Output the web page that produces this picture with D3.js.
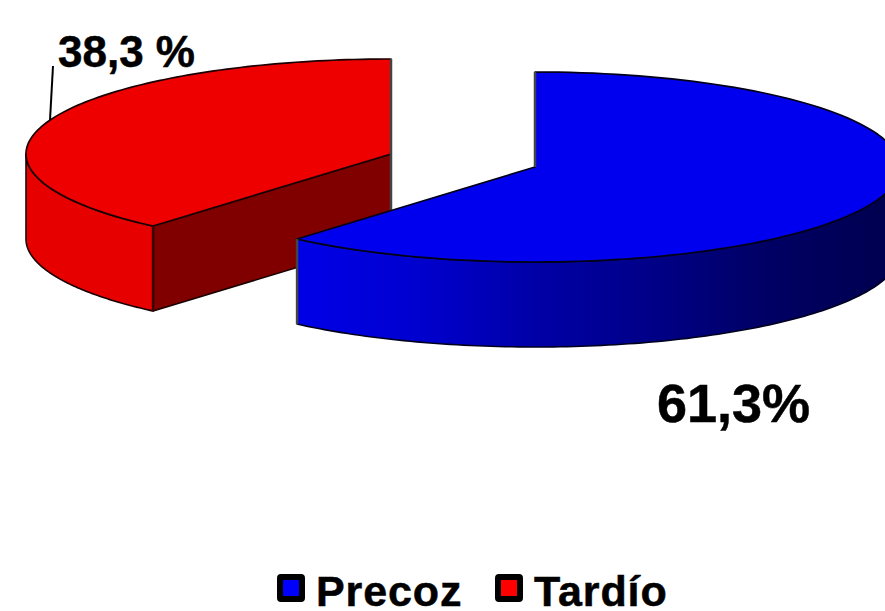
<!DOCTYPE html>
<html>
<head>
<meta charset="utf-8">
<script src="https://d3js.org/d3.v7.min.js"></script>
<style>
  html, body { margin: 0; padding: 0; background: #fff; overflow: hidden; }
  text { font-family: "Liberation Sans", Arial, sans-serif; font-weight: bold; fill: #000; stroke: #000; stroke-width: 0.5px; }
</style>
</head>
<body>
<div id="chart"></div>
<script>
const categories = ["Precoz", "Tardío"];
const values = [61.3, 38.3];
const valueLabels = ["61,3%", "38,3 %"];
const topColors = ["#0000ee", "#ee0000"];
const legendColors = ["#0000ff", "#ff0000"];

const width = 885, height = 611;
const rx = 365, ry = 95, depth = 85;

const svg = d3.select("#chart").append("svg")
  .attr("width", width)
  .attr("height", height);

// share of the circle, blue starts at 12 o'clock going clockwise
const angle = d3.scaleLinear().domain([0, 100]).range([0, 2 * Math.PI]);
const split = angle(values[0]);

const slices = {
  blue: { cx: 535, cy: 167, a0: 0, a1: split },
  red: { cx: 391, cy: 154, a0: split, a1: 2 * Math.PI }
};

function project(s, a, drop) {
  return [s.cx + rx * Math.sin(a), s.cy - ry * Math.cos(a) + (drop || 0)];
}

function arcPoints(s, a0, a1, drop) {
  const n = 120;
  return d3.range(n + 1).map(i => project(s, a0 + (a1 - a0) * i / n, drop));
}

const line = d3.line();
const edge = "#1a0000";

const defs = svg.append("defs");
const grad = defs.append("linearGradient")
  .attr("id", "blueSide")
  .attr("gradientUnits", "userSpaceOnUse")
  .attr("x1", 297).attr("x2", 885).attr("y1", 0).attr("y2", 0);
[[0, "#0000e8"], [0.2, "#0000d0"], [0.4, "#0000a8"], [0.6, "#000088"], [0.8, "#000064"], [1, "#000050"]]
  .forEach(d => grad.append("stop").attr("offset", d[0]).attr("stop-color", d[1]));

function rimPath(s, a0, a1) {
  return line(arcPoints(s, a0, a1, 0).concat(arcPoints(s, a1, a0, depth))) + "Z";
}

function drawFace(d, fill, stroke, sw) {
  svg.append("path").attr("d", d).attr("fill", fill)
    .attr("stroke", stroke).attr("stroke-width", sw).attr("stroke-linejoin", "round");
}

function drawEdge(p, q, color, sw) {
  svg.append("path").attr("d", line([p, q])).attr("fill", "none")
    .attr("stroke", color).attr("stroke-width", sw);
}

// red slice
const r = slices.red;
const rApex = [r.cx, r.cy];
const rTip = project(r, r.a0, 0);
drawFace(line([rApex, rTip, [rTip[0], rTip[1] + depth], [rApex[0], rApex[1] + depth]]) + "Z", "#800000", edge, 1.6);
drawFace(rimPath(r, r.a0, 1.5 * Math.PI), "#e60000", edge, 1.6);
drawFace(line([rApex].concat(arcPoints(r, r.a0, r.a1, 0))) + "Z", topColors[1], edge, 1.7);
drawEdge(rTip, [rTip[0], rTip[1] + depth], "#3a0505", 2.5);
drawEdge(project(r, r.a1, 0), [r.cx, r.cy + depth], "#444", 2.5);

// blue slice
const b = slices.blue;
const bApex = [b.cx, b.cy];
const bTip = project(b, b.a1, 0);
drawFace(rimPath(b, Math.PI / 2, b.a1), "url(#blueSide)", "#000020", 1.6);
drawFace(line([bApex].concat(arcPoints(b, b.a0, b.a1, 0))) + "Z", topColors[0], "#00001a", 1.7);
drawEdge(project(b, b.a0, 0), bApex, "#444", 2.5);
drawEdge(bTip, [bTip[0], bTip[1] + depth], "#444", 2.5);

// leader line and value labels
drawEdge([53, 66], [50, 120], "#000", 2);

svg.append("text").attr("x", 58).attr("y", 67).attr("font-size", 44).text(valueLabels[1]);
svg.append("text").attr("x", 657).attr("y", 422).attr("font-size", 54).text(valueLabels[0]);

// legend
const legendX = [280, 498];
const legend = svg.selectAll(".legend").data(categories).join("g").attr("class", "legend");
legend.append("rect")
  .attr("x", (d, i) => legendX[i]).attr("y", 577)
  .attr("width", 22).attr("height", 22).attr("rx", 1)
  .attr("fill", (d, i) => legendColors[i])
  .attr("stroke", "#000").attr("stroke-width", 6);
legend.append("text")
  .attr("x", (d, i) => legendX[i] + 36)
  .attr("y", 606)
  .attr("font-size", 43)
  .attr("letter-spacing", 0.9)
  .text(d => d);
</script>
</body>
</html>
